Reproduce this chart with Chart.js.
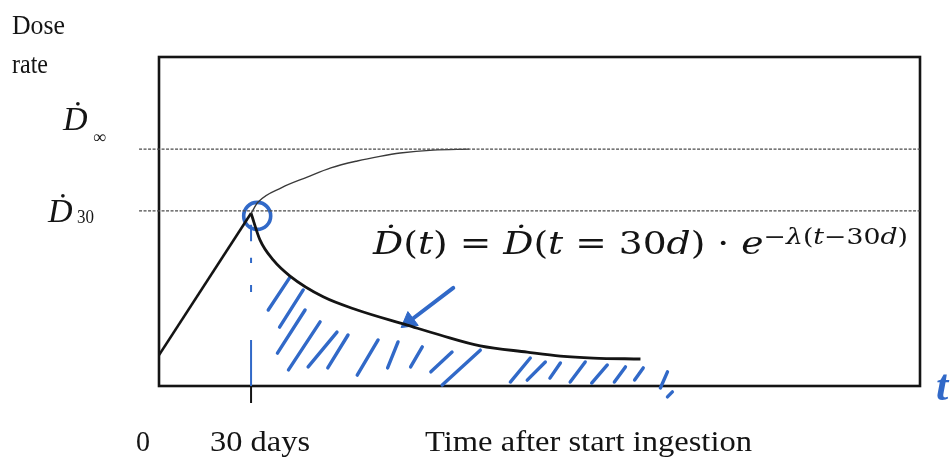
<!DOCTYPE html>
<html lang="en">
<head>
    <meta charset="UTF-8">
    <title>Dose rate after ingestion</title>
    <script src="https://cdn.jsdelivr.net/npm/chart.js"></script>
    <style>
        body { margin: 0; background: #fff; }
        canvas { display: block; }
    </style>
</head>
<body>
    <canvas id="doseChart" width="952" height="470"></canvas>

    <script>
        // Axis ranges (days, relative dose rate)
        const xMax = 248;
        const yMax = 100;

        // Tick labels and titles
        const tickValues = [0, 30];
        const tickLabels = ['0', '30 days'];
        const xTitle = 'Time after start ingestion';
        const yTitle = ['Dose', 'rate'];

        // Reference levels
        const dInf = 72.0;
        const d30 = 53.2;
        const refStart = -6.5;

        // Linear build-up during ingestion
        const riseT = [0, 30];
        const riseD = [9.4, 52.5];

        // Continued ingestion -> saturation
        const accumT = [30, 32.3, 40, 48.3, 56, 64.6, 72, 78.6, 89.4, 101];
        const accumD = [52.5, 55.9, 60.3, 63.5, 66.3, 68.4, 69.8, 70.8, 71.7, 72.0];

        // Decay after ingestion stops
        const decayT = [30, 32.9, 37.2, 42.7, 53.5, 64.6, 80.9, 91.6, 104.7, 120, 130.8, 141.5, 156.9];
        const decayD = [52.5, 44.4, 38.3, 33.4, 27.1, 23.1, 18.5, 15.5, 12.2, 10.3, 9.1, 8.5, 8.2];

        // Hand-drawn annotations
        const circleT = 32;
        const circleD = 51.7;
        const markT = 30;
        const markD = [[49, 44], [39, 37.4], [30.7, 28.6], [14, 0]];
        const arrowT = [95.9, 81.5];
        const arrowD = [29.8, 19.6];
        const hatchFrom = [
            [42.7, 33.1], [47.0, 29.2], [47.6, 23.1], [52.5, 19.5], [58.0, 16.4],
            [61.6, 15.5], [71.4, 14.0], [77.9, 13.4], [85.8, 11.9], [95.5, 10.3],
            [104.7, 10.9], [121.0, 8.5], [125.9, 7.3], [130.8, 7.0], [138.9, 7.3],
            [146.1, 6.4], [152.0, 5.8], [157.8, 5.5], [165.7, 4.3], [167.3, -1.8]
        ];
        const hatchTo = [
            [35.6, 23.1], [39.3, 17.9], [38.6, 10.0], [42.2, 4.9], [48.6, 5.8],
            [55.0, 5.5], [64.6, 3.3], [74.5, 5.5], [82.0, 5.8], [88.6, 4.3],
            [92.3, 0.3], [114.5, 1.2], [120.0, 1.8], [127.4, 2.4], [134.0, 1.2],
            [141.0, 0.9], [148.4, 1.2], [155.0, 1.8], [163.4, -0.6], [165.7, -3.3]
        ];

        const ink = '#141414';
        const blue = '#3169c8';
        const serif = '"Liberation Serif", "DejaVu Serif", serif';
        const mathFont = '"DejaVu Serif", serif';

        const pts = (ts, ds) => ts.map((t, i) => ({ x: t, y: ds[i] }));
        const segments = (from, to) => {
            const out = [];
            from.forEach((p, i) => {
                out.push({ x: p[0], y: p[1] }, { x: to[i][0], y: to[i][1] }, { x: null, y: null });
            });
            return out;
        };

        // Draw text squeezed or stretched to a given width
        function fitText(ctx, text, left, baseline, width, font) {
            ctx.save();
            ctx.font = font;
            const w = ctx.measureText(text).width;
            ctx.translate(left, baseline);
            ctx.scale(width / w, 1);
            ctx.fillText(text, 0, 0);
            ctx.restore();
        }

        // Formula pieces: [text, italic, superscript]
        const formula = [
            ['Ḋ', true, false], ['(', false, false], ['t', true, false], [') = ', false, false],
            ['Ḋ', true, false], ['(', false, false], ['t', true, false], [' = 30', false, false],
            ['d', true, false], [') · ', false, false], ['e', true, false],
            ['−', false, true], ['λ', true, true], ['(', false, true], ['t', true, true],
            ['−30', false, true], ['d', true, true], [')', false, true]
        ];

        function drawFormula(ctx, left, baseline, width) {
            const fontOf = p => (p[1] ? 'italic ' : '') + (p[2] ? '22px ' : '31px ') + mathFont;
            let total = 0;
            formula.forEach(p => { ctx.font = fontOf(p); total += ctx.measureText(p[0]).width; });
            const k = width / total;
            ctx.save();
            ctx.translate(left, baseline);
            ctx.scale(k, 1);
            let x = 0;
            formula.forEach(p => {
                ctx.font = fontOf(p);
                ctx.fillText(p[0], x, p[2] ? -10 : 0);
                x += ctx.measureText(p[0]).width;
            });
            ctx.restore();
        }

        const framePlugin = {
            id: 'frame',
            beforeDatasetsDraw(chart) {
                const { ctx, chartArea: a } = chart;
                ctx.save();
                ctx.strokeStyle = ink;
                ctx.lineWidth = 2.6;
                ctx.strokeRect(a.left, a.top, a.right - a.left, a.bottom - a.top);
                ctx.restore();
            },
            afterDraw(chart) {
                const { ctx, chartArea: a } = chart;
                const xs = chart.scales.x, ys = chart.scales.y;
                ctx.save();
                ctx.fillStyle = ink;
                ctx.textAlign = 'left';
                ctx.textBaseline = 'alphabetic';

                // tick mark at 30 days
                ctx.strokeStyle = ink;
                ctx.lineWidth = 2;
                const tx = xs.getPixelForValue(tickValues[1]);
                ctx.beginPath();
                ctx.moveTo(tx, a.bottom);
                ctx.lineTo(tx, a.bottom + 17);
                ctx.stroke();

                // tick labels and x title
                const base = a.bottom + 65;
                fitText(ctx, tickLabels[0], xs.getPixelForValue(tickValues[0]) - 23, base, 14, '30px ' + serif);
                fitText(ctx, tickLabels[1], tx - 41, base, 100, '30px ' + serif);
                fitText(ctx, xTitle, 425, base, 327, '30px ' + serif);

                // y title
                fitText(ctx, yTitle[0], 12, 34, 53, '28px ' + serif);
                fitText(ctx, yTitle[1], 12, 73, 36, '28px ' + serif);

                // level labels
                const yInf = ys.getPixelForValue(dInf);
                const y30 = ys.getPixelForValue(d30);
                ctx.font = 'italic 34px ' + serif;
                ctx.fillText('Ḋ', 63, yInf - 19);
                ctx.font = '18px ' + serif;
                ctx.fillText('∞', 93, yInf - 6);
                ctx.font = 'italic 34px ' + serif;
                ctx.fillText('Ḋ', 48, y30 + 11);
                fitText(ctx, '30', 77, y30 + 12, 17, '18px ' + serif);

                // formula
                drawFormula(ctx, 373, 254, 535);

                // hand-written t
                ctx.fillStyle = blue;
                ctx.font = 'italic bold 44px ' + serif;
                ctx.fillText('t', 936, a.bottom + 14);
                ctx.restore();
            }
        };

        const line = (data, color, width, extra) => Object.assign({
            data, borderColor: color, borderWidth: width, pointRadius: 0,
            fill: false, tension: 0, spanGaps: false
        }, extra || {});

        new Chart(document.getElementById('doseChart'), {
            type: 'line',
            data: {
                datasets: [
                    line(pts([refStart, xMax], [dInf, dInf]), '#4a4a4a', 1.3, { borderDash: [3, 1.5], clip: false }),
                    line(pts([refStart, xMax], [d30, d30]), '#4a4a4a', 1.3, { borderDash: [3, 1.5], clip: false }),
                    line(pts(accumT, accumD), '#3a3a3a', 1.4, { cubicInterpolationMode: 'monotone' }),
                    line(pts(riseT, riseD), ink, 2.6),
                    line(pts(decayT, decayD), ink, 2.8, { cubicInterpolationMode: 'monotone' }),
                    line(segments(markD.map(m => [markT, m[0]]), markD.map(m => [markT, m[1]])), blue, 2),
                    line(segments(hatchFrom, hatchTo), blue, 3.4, { borderCapStyle: 'round', clip: false }),
                    line(pts(arrowT, arrowD), blue, 4, { borderCapStyle: 'round' }),
                    {
                        type: 'scatter',
                        data: [{ x: arrowT[1], y: arrowD[1] }],
                        pointStyle: 'triangle', pointRadius: 10, pointRotation: 233,
                        backgroundColor: blue, borderColor: blue, borderWidth: 1
                    },
                    {
                        type: 'scatter',
                        data: [{ x: circleT, y: circleD }],
                        pointStyle: 'circle', pointRadius: 13.5,
                        backgroundColor: 'rgba(0,0,0,0)', borderColor: blue, borderWidth: 3.6
                    }
                ]
            },
            options: {
                responsive: false,
                animation: false,
                layout: { padding: { left: 159, right: 32, top: 57, bottom: 84 } },
                plugins: { legend: { display: false }, tooltip: { enabled: false } },
                scales: {
                    x: { type: 'linear', min: 0, max: xMax, display: false },
                    y: { type: 'linear', min: 0, max: yMax, display: false }
                }
            },
            plugins: [framePlugin]
        });
    </script>
</body>
</html>
